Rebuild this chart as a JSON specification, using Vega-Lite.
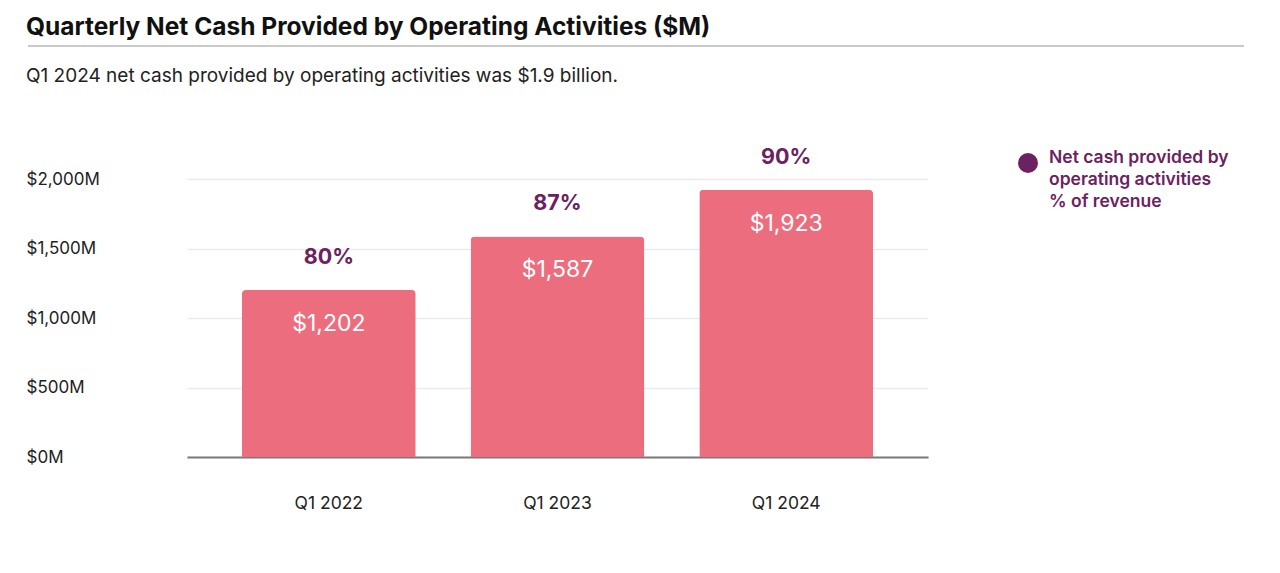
{
  "$schema": "https://vega.github.io/schema/vega-lite/v6.json",
  "padding": {"top": 14, "left": 26, "right": 10, "bottom": 10},
  "width": 741,
  "height": 278,
  "config": {
    "font": "Inter",
    "view": {"stroke": null},
    "style": {"guide-label": {"lineHeight": 22}}
  },
  "title": {
    "text": "Quarterly Net Cash Provided by Operating Activities ($M)",
    "subtitle": "Q1 2024 net cash provided by operating activities was $1.9 billion.",
    "anchor": "start", "frame": "bounds",
    "fontSize": 24.5, "fontWeight": "bold", "color": "#111111",
    "subtitleFontSize": 19, "subtitleColor": "#222222", "subtitlePadding": 27,
    "offset": -42
  },
  "resolve": {"scale": {"x": "independent", "y": "independent"}},
  "layer": [
    {
      "data": {"values": [
        {"quarter": "Q1 2022", "cash": 1202, "pct": 0.80, "series": "Net cash provided by operating activities % of revenue"},
        {"quarter": "Q1 2023", "cash": 1587, "pct": 0.87, "series": "Net cash provided by operating activities % of revenue"},
        {"quarter": "Q1 2024", "cash": 1923, "pct": 0.90, "series": "Net cash provided by operating activities % of revenue"}
      ]},
      "encoding": {
        "x": {
          "field": "quarter", "type": "nominal", "sort": null,
          "scale": {"paddingInner": 0.24, "paddingOuter": 0.24},
          "axis": {"title": null, "labelAngle": 0, "ticks": false, "domainColor": "#7a7a7a", "domainWidth": 2, "labelPadding": 37, "labelFontSize": 17.5, "labelColor": "#222222", "grid": false}
        },
        "y": {
          "field": "cash", "type": "quantitative",
          "scale": {"domain": [0, 2000], "nice": false},
          "axis": {"title": null, "values": [0, 500, 1000, 1500, 2000], "labelExpr": "'$' + format(datum.value, ',') + 'M'", "domain": false, "ticks": false, "gridColor": "#ebebeb", "gridWidth": 1.5, "labelAlign": "left", "labelPadding": 161, "labelFontSize": 17, "labelColor": "#222222"}
        }
      },
      "layer": [
        {"mark": {"type": "bar", "color": "#EC6E7E", "cornerRadiusTopLeft": 4, "cornerRadiusTopRight": 4}},
        {"mark": {"type": "text", "color": "white", "fontSize": 23, "baseline": "middle", "dy": 34},
         "encoding": {"text": {"field": "cash", "type": "quantitative", "format": "$,.0f"}}},
        {"mark": {"type": "text", "fontSize": 21.5, "fontWeight": "bold", "baseline": "middle", "dy": -32},
         "encoding": {
           "text": {"field": "pct", "type": "quantitative", "format": ".0%"},
           "color": {"field": "series", "type": "nominal", "scale": {"range": ["#6C2160"]},
             "legend": {"title": null, "orient": "none", "legendX": 831, "legendY": -26, "padding": 0,
               "symbolType": "circle", "symbolSize": 400, "symbolFillColor": "#6C2160", "symbolStrokeWidth": 0,
               "labelExpr": "['Net cash provided by', 'operating activities', '% of revenue']",
               "labelFontSize": 17.5, "labelFontWeight": 600, "labelColor": "#6C2160", "labelOffset": 11, "labelLimit": 0, "labelBaseline": "alphabetic"}}
         }}
      ]
    },
    {
      "data": {"values": [{}]},
      "mark": {"type": "rule", "color": "#b8b8b8", "strokeWidth": 1.5},
      "encoding": {
        "x": {"datum": -0.2146, "type": "quantitative", "scale": {"domain": [0, 1], "nice": false, "zero": false}, "axis": null},
        "x2": {"datum": 1.4265},
        "y": {"datum": 2957, "type": "quantitative", "scale": {"domain": [0, 2000], "nice": false}, "axis": null}
      }
    }
  ]
}
